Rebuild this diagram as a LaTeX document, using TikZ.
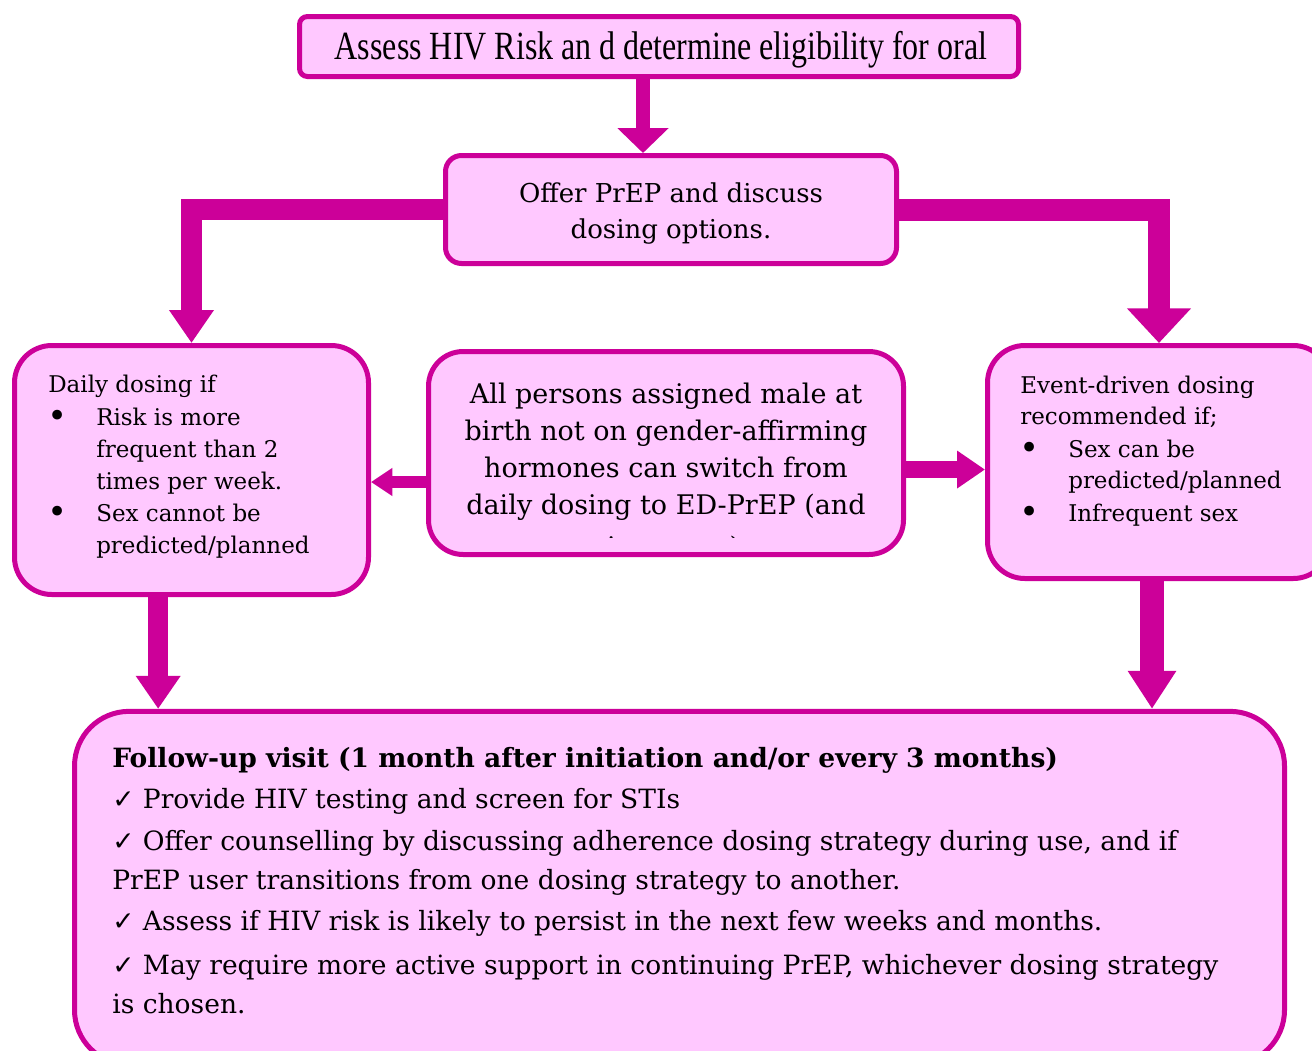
\documentclass[tikz,border=0pt]{standalone}
\usepackage{fontspec}
\setmainfont{DejaVu Serif}
\newfontfamily\timesf[FakeStretch=0.8]{Liberation Serif}
\newfontfamily\symf{DejaVu Sans}
\usetikzlibrary{arrows.meta,calc}
\definecolor{mag}{RGB}{204,0,153}
\definecolor{pinkfill}{RGB}{255,200,255}
\newcommand{\bigbul}{\raisebox{-1.5pt}{\fontsize{25pt}{25pt}\selectfont •}}
\begin{document}
\begin{tikzpicture}[x=0.75pt,y=-0.75pt,
  box/.style={draw=mag, fill=pinkfill, line width=3.75pt, inner sep=0pt},
  txt/.style={inner sep=0pt, anchor=base west, text=black},
  ctxt/.style={inner sep=0pt, anchor=base, text=black},
  fa/.style={draw=mag, line width=#1},
  topfont/.style={font=\timesf\fontsize{30pt}{36pt}\selectfont},
  offfont/.style={font=\fontsize{19.5pt}{24pt}\selectfont},
  cenfont/.style={font=\fontsize{20.25pt}{24pt}\selectfont},
  sidefont/.style={font=\fontsize{17.25pt}{20pt}\selectfont},
  botfont/.style={font=\fontsize{19.9pt}{24pt}\selectfont},
]
\fill[white] (0,0) rectangle (1312,1050);
\useasboundingbox (0,0) rectangle (1312,1050);
\clip (0,0) rectangle (1312,1050);

% boxes
\node[box, minimum width=539.25pt, minimum height=45pt, rounded corners=6pt] (top) at (659,46.5) {};
\node[box, minimum width=338.25pt, minimum height=81pt, rounded corners=12pt] (offer) at (671,209.5) {};
\node[box, minimum width=265.5pt, minimum height=186.75pt, rounded corners=28pt] (daily) at (191.5,470) {};
\node[box, minimum width=356.25pt, minimum height=152.25pt, rounded corners=26pt] (allp) at (666,453) {};
\node[box, minimum width=257.25pt, minimum height=174.75pt, rounded corners=28pt] (event) at (1159,462) {};
\node[box, minimum width=907.5pt, minimum height=265pt, rounded corners=41pt] (follow) at (679.5,888) {};

% top text
\node[ctxt, topfont] (t1) at (661,59) {Assess HIV Risk an d determine eligibility for oral};

% offer text
\node[ctxt, offfont] (o1) at (671,202) {Offer PrEP and discuss};
\node[ctxt, offfont] (o2) at (671,238) {dosing options.};

% center text (clipped)
\begin{scope}
\clip (432,356) rectangle (900,537);
\node[ctxt, cenfont] (c1) at (666,403) {All persons assigned male at};
\node[ctxt, cenfont] (c2) at (666,440) {birth not on gender-affirming};
\node[ctxt, cenfont] (c3) at (666,477) {hormones can switch from};
\node[ctxt, cenfont] (c4) at (666,514) {daily dosing to ED-PrEP (and};
\node[ctxt, cenfont] (c5) at (666,556) {vice versa)};
\end{scope}

% daily text
\node[txt, sidefont] (d0) at (48,392) {Daily dosing if};
\node[txt, sidefont] (db1) at (47,425) {\bigbul};
\node[txt, sidefont] (d1) at (96,425) {Risk is more};
\node[txt, sidefont] (d2) at (96,457) {frequent than 2};
\node[txt, sidefont] (d3) at (96,489) {times per week.};
\node[txt, sidefont] (db2) at (47,521) {\bigbul};
\node[txt, sidefont] (d4) at (96,521) {Sex cannot be};
\node[txt, sidefont] (d5) at (96,553) {predicted/planned};

% event text
\node[txt, sidefont] (e0) at (1020,393) {Event-driven dosing};
\node[txt, sidefont] (e1) at (1020,424) {recommended if;};
\node[txt, sidefont] (eb1) at (1019,457) {\bigbul};
\node[txt, sidefont] (e2) at (1068,457) {Sex can be};
\node[txt, sidefont] (e3) at (1068,488) {predicted/planned};
\node[txt, sidefont] (eb2) at (1019,521) {\bigbul};
\node[txt, sidefont] (e4) at (1068,521) {Infrequent sex};

% follow-up text
\node[txt, botfont] (f0) at (112,767) {\bfseries Follow-up visit (1 month after initiation and/or every 3 months)};
\node[txt, botfont] (f1) at (112,808) {{\symf ✓} Provide HIV testing and screen for STIs};
\node[txt, botfont] (f2) at (112,850) {{\symf ✓} Offer counselling by discussing adherence dosing strategy during use, and if};
\node[txt, botfont] (f3) at (112,889) {PrEP user transitions from one dosing strategy to another.};
\node[txt, botfont] (f4) at (112,930) {{\symf ✓} Assess if HIV risk is likely to persist in the next few weeks and months.};
\node[txt, botfont] (f5) at (112,974) {{\symf ✓} May require more active support in continuing PrEP, whichever dosing strategy};
\node[txt, botfont] (f6) at (112,1013) {is chosen.};

% connectors
\draw[fa=10.5pt, -{Triangle[width=37.5pt,length=18.75pt]}] ([xshift=-12pt]top.south) -- ([xshift=-12pt]top.south |- offer.north);
\draw[fa=15.75pt, -{Triangle[width=32pt,length=24.75pt]}] (offer.west) -| (daily.north);
\draw[fa=16.5pt, -{Triangle[width=46.5pt,length=26pt]}] (offer.east) -| (event.north);
\draw[fa=9pt, -{Triangle[width=20pt,length=16pt]}] ([yshift=-21.75pt]allp.west) -- ([yshift=-21.75pt]allp.west -| daily.east);
\draw[fa=12.75pt, -{Triangle[width=27pt,length=21pt]}] ([yshift=-12.4pt]allp.east) -- ([yshift=-12.4pt]allp.east -| event.west);
\draw[fa=15pt, -{Triangle[width=32pt,length=24.75pt]}] ([xshift=-25pt]daily.south) -- ([xshift=-25pt]daily.south |- follow.north);
\draw[fa=18pt, -{Triangle[width=34.5pt,length=28.5pt]}] ([xshift=-5.25pt]event.south) -- ([xshift=-5.25pt]event.south |- follow.north);
\end{tikzpicture}
\end{document}
